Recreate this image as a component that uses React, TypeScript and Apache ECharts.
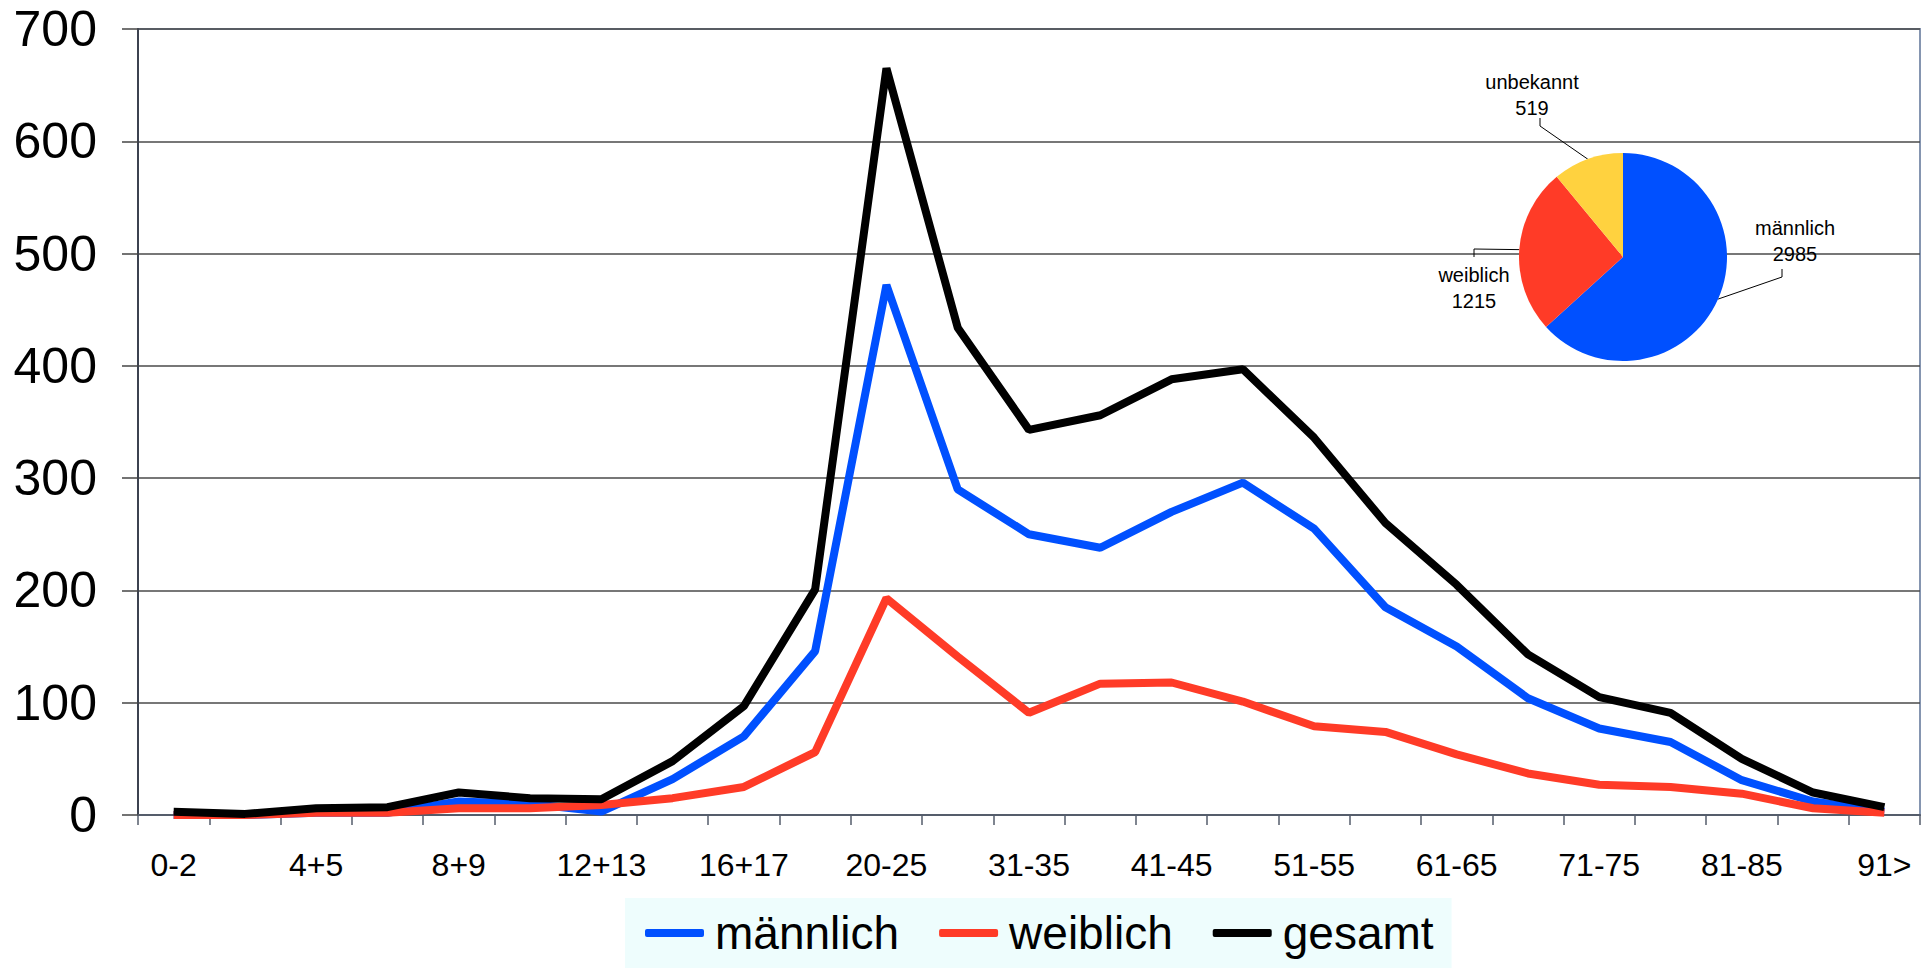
import React, { useEffect, useRef } from "react";
import * as echarts from "echarts";

const categories = [
  "0-2", "3", "4+5", "6+7", "8+9", "10+11", "12+13", "14+15", "16+17", "18+19",
  "20-25", "26-30", "31-35", "36-40", "41-45", "46-50", "51-55", "56-60", "61-65",
  "66-70", "71-75", "76-80", "81-85", "86-90", "91>",
];
const maleValues = [0, 0, 2, 2, 12, 10, 3, 32, 70, 146, 472, 290, 250, 238, 270, 296, 255, 185, 150, 104, 77, 65, 31, 12, 3];
const femaleValues = [0, 0, 2, 2, 6, 6, 9, 15, 25, 56, 193, 141, 91, 117, 118, 101, 79, 74, 54, 37, 27, 25, 19, 6, 2];
const totalValues = [3, 1, 6, 7, 20, 15, 14, 48, 97, 201, 665, 434, 343, 356, 388, 397, 336, 260, 205, 143, 105, 91, 50, 20, 7];
const seriesNames = ["männlich", "weiblich", "gesamt"];
const pieNames = ["männlich", "weiblich", "unbekannt"];
const pieValues = [2985, 1215, 519];
const yTicks = { min: 0, max: 700, interval: 100 };

const FONT = "'Liberation Sans', Arial, sans-serif";
const BLUE = "#0050ff";
const RED = "#ff3b27";
const BLACK = "#000000";
const YELLOW = "#ffd23f";

export default function App() {
  const ref = useRef<HTMLDivElement>(null);
  useEffect(() => {
    document.body.style.margin = "0";
    const chart = echarts.init(ref.current as HTMLDivElement, null, { renderer: "svg" });
    const labelCenters: number[][] = [
      [1795, 241],
      [1474, 288],
      [1532, 95],
    ];
    const linePts: number[][][] = [
      [[1782, 277], [1782, 269]],
      [[1474, 249], [1474, 257]],
      [[1540, 126], [1540, 118]],
    ];
    const lineSeries = [maleValues, femaleValues, totalValues].map((vals, i) => ({
      name: seriesNames[i],
      type: "line",
      data: vals,
      symbol: "none",
      z: 2 + i,
      lineStyle: { width: 8, color: [BLUE, RED, BLACK][i] },
      itemStyle: { color: [BLUE, RED, BLACK][i] },
    }));
    chart.setOption({
      animation: false,
      backgroundColor: "#ffffff",
      textStyle: { fontFamily: FONT },
      grid: {
        left: 138,
        right: 5,
        top: 29,
        bottom: 153,
        containLabel: false,
        outerBoundsMode: "none",
        show: true,
        borderColor: "#8595b0",
        borderWidth: 2,
        backgroundColor: "transparent",
      },
      legend: {
        data: seriesNames,
        left: 625,
        top: 898,
        padding: [10, 18, 10, 20],
        backgroundColor: "#eefdfd",
        icon: "roundRect",
        itemWidth: 59,
        itemHeight: 8,
        itemGap: 40,
        textStyle: {
          fontSize: 46,
          lineHeight: 50,
          color: "#000",
          fontFamily: FONT,
          padding: [0, 0, 0, 6],
        },
      },
      xAxis: {
        type: "category",
        data: categories,
        boundaryGap: true,
        axisLine: { show: true, lineStyle: { color: "#555d6b", width: 2 } },
        axisTick: { show: true, interval: 0, length: 10, lineStyle: { color: "#555d6b", width: 1.5 } },
        axisLabel: { interval: 1, fontSize: 32, color: "#000", margin: 34, fontFamily: FONT },
        splitLine: { show: false },
      },
      yAxis: {
        type: "value",
        min: yTicks.min,
        max: yTicks.max,
        interval: yTicks.interval,
        axisLine: { show: true, lineStyle: { color: "#3c4250", width: 2 } },
        axisTick: { show: true, length: 16, lineStyle: { color: "#444", width: 1.5 } },
        axisLabel: { fontSize: 50, color: "#000", margin: 41, fontFamily: FONT },
        splitLine: { show: true, lineStyle: { color: "#4a4a4a", width: 1.5 } },
      },
      series: [
        ...lineSeries,
        {
          name: "Geschlecht",
          type: "pie",
          center: [1623, 257],
          radius: 104,
          startAngle: 90,
          clockwise: true,
          avoidLabelOverlap: false,
          z: 10,
          data: pieNames.map((n, i) => ({
            name: n,
            value: pieValues[i],
            itemStyle: { color: [BLUE, RED, YELLOW][i] },
          })),
          label: {
            show: true,
            position: "outside",
            formatter: "{b}\n{c}",
            fontSize: 20,
            lineHeight: 26,
            color: "#000",
            fontFamily: FONT,
            align: "center",
          },
          labelLine: { show: true, length: 10, length2: 10, lineStyle: { color: "#000", width: 1 } },
          labelLayout: (params: any) => {
            const i = params.dataIndex;
            const c = labelCenters[i];
            const res: any = { x: c[0], y: c[1], align: "center", verticalAlign: "middle" };
            if (params.labelLinePoints && params.labelLinePoints[0]) {
              res.labelLinePoints = [params.labelLinePoints[0], linePts[i][0], linePts[i][1]];
            }
            return res;
          },
          emphasis: { disabled: true },
        },
      ],
    });
    return () => chart.dispose();
  }, []);
  return (
    <div
      ref={ref}
      style={{ position: "absolute", left: 0, top: 0, width: 1925, height: 968 }}
    />
  );
}
